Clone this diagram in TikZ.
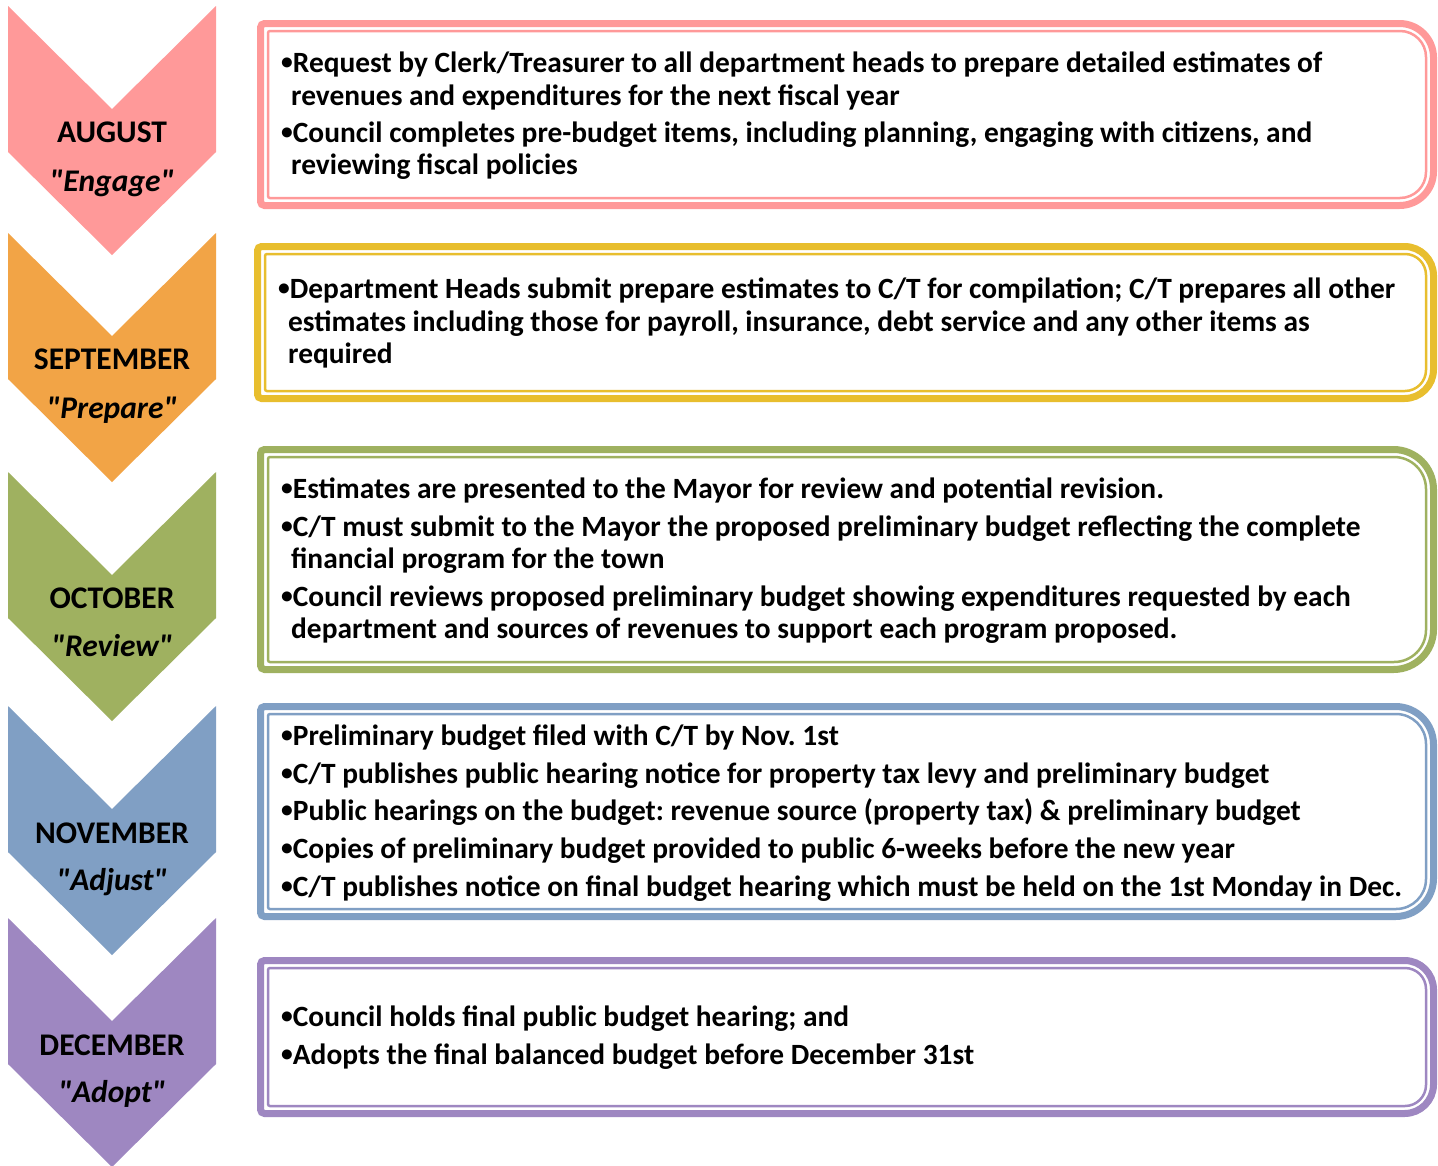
\documentclass[tikz,border=0pt]{standalone}
\usepackage{fontspec}
\setmainfont{Carlito}
\frenchspacing
\definecolor{augpink}{HTML}{FF9999}
\definecolor{sepor}{HTML}{F2A446}
\definecolor{sepgold}{HTML}{E8BE2E}
\definecolor{octgreen}{HTML}{9FB160}
\definecolor{novblue}{HTML}{809FC4}
\definecolor{decpurple}{HTML}{9E87C1}

% chevron pointing down; #1 colour, #2 top edge
\newcommand\monthchevron[2]{%
  \fill[#1] (8,#2) -- (112,{#2+103}) -- (216,#2) -- (216,{#2+146})
    -- (112,{#2+249}) -- (8,{#2+146}) -- cycle;}

% double-lined panel: #1 colour, #2 x0, #3 y0, #4 x1, #5 y1, #6 right corner radius
\newcommand\stagebox[6]{%
  \pgfmathsetmacro\panelinnerrad{#6-8}%
  \draw[#1, line width=7pt] ({#2+3.5},{(#3+#5)/2}) [rounded corners=4pt]
    -- ({#2+3.5},{#3+3.5}) -- ({(#2+#4)/2},{#3+3.5}) [rounded corners=#6pt]
    -- ({#4-3.5},{#3+3.5}) -- ({#4-3.5},{#5-3.5}) -- ({(#2+#4)/2},{#5-3.5})
    [rounded corners=4pt] -- ({#2+3.5},{#5-3.5}) -- cycle;
  \draw[#1, line width=2.5pt] ({#2+11},{(#3+#5)/2}) [rounded corners=2pt]
    -- ({#2+11},{#3+11}) -- ({(#2+#4)/2},{#3+11}) [rounded corners=\panelinnerrad pt]
    -- ({#4-11},{#3+11}) -- ({#4-11},{#5-11}) -- ({(#2+#4)/2},{#5-11})
    [rounded corners=2pt] -- ({#2+11},{#5-11}) -- cycle;}

% list bullet and straight double quote
\newcommand\itembul{\raisebox{0.08em}{\scalebox{0.8}{\textbullet}}}
\newcommand\sq{\textquotedbl}

\begin{document}
\begin{tikzpicture}[x=1pt, y=-1pt,
  month/.style={anchor=base, inner sep=0pt, font=\fontsize{31.5}{34}\selectfont\bfseries},
  tagline/.style={anchor=base, inner sep=0pt, font=\fontsize{31.5}{34}\selectfont\bfseries\itshape},
  boxline/.style={anchor=base west, inner sep=0pt, font=\fontsize{29.4}{32}\selectfont\bfseries}]
\useasboundingbox[fill=white] (0,0) rectangle (1438,1165);

% month chevrons
\monthchevron{augpink}{6}
\monthchevron{sepor}{233}
\monthchevron{octgreen}{472}
\monthchevron{novblue}{706}
\monthchevron{decpurple}{918}

\node[month] (m1) at (112,142) {AUGUST};
\node[tagline] (t1) at (112,191) {\sq Engage\sq};
\node[month] (m2) at (112,369) {SEPTEMBER};
\node[tagline] (t2) at (112,418) {\sq Prepare\sq};
\node[month] (m3) at (112,608) {OCTOBER};
\node[tagline] (t3) at (112,656) {\sq Review\sq};
\node[month] (m4) at (112,843) {NOVEMBER};
\node[tagline] (t4) at (112,890) {\sq Adjust\sq};
\node[month] (m5) at (112,1055) {DECEMBER};
\node[tagline] (t5) at (112,1102) {\sq Adopt\sq};

% task panels
\stagebox{augpink}{257}{20}{1437}{209}{34}
\stagebox{sepgold}{254}{243}{1437}{402}{29}
\stagebox{octgreen}{257}{446}{1437}{673}{40}
\stagebox{novblue}{257}{703}{1437}{920}{38}
\stagebox{decpurple}{257}{957}{1437}{1117}{29}

% August
\node[boxline] (a1) at (281,72) {\itembul Request by Clerk/Treasurer to all department heads to prepare detailed estimates of};
\node[boxline] (a2) at (291,105) {revenues and expenditures for the next fiscal year};
\node[boxline] (a3) at (281,142) {\itembul Council completes pre-budget items, including planning, engaging with citizens, and};
\node[boxline] (a4) at (291,174) {reviewing fiscal policies};

% September
\node[boxline] (s1) at (278,298) {\itembul Department Heads submit prepare estimates to C/T for compilation; C/T prepares all other};
\node[boxline] (s2) at (288,331) {estimates including those for payroll, insurance, debt service and any other items as};
\node[boxline] (s3) at (288,363) {required};

% October
\node[boxline] (o1) at (281,498) {\itembul Estimates are presented to the Mayor for review and potential revision.};
\node[boxline] (o2) at (281,536) {\itembul C/T must submit to the Mayor the proposed preliminary budget reflecting the complete};
\node[boxline] (o3) at (291,568) {financial program for the town};
\node[boxline] (o4) at (281,606) {\itembul Council reviews proposed preliminary budget showing expenditures requested by each};
\node[boxline] (o5) at (291,638) {department and sources of revenues to support each program proposed.};

% November
\node[boxline] (n1) at (281,745) {\itembul Preliminary budget filed with C/T by Nov. 1st};
\node[boxline] (n2) at (281,783) {\itembul C/T publishes public hearing notice for property tax levy and preliminary budget};
\node[boxline] (n3) at (281,820) {\itembul Public hearings on the budget: revenue source (property tax) \& preliminary budget};
\node[boxline] (n4) at (281,858) {\itembul Copies of preliminary budget provided to public 6-weeks before the new year};
\node[boxline] (n5) at (281,896) {\itembul C/T publishes notice on final budget hearing which must be held on the 1st Monday in Dec.};

% December
\node[boxline] (d1) at (281,1026) {\itembul Council holds final public budget hearing; and};
\node[boxline] (d2) at (281,1064) {\itembul Adopts the final balanced budget before December 31st};
\end{tikzpicture}
\end{document}
